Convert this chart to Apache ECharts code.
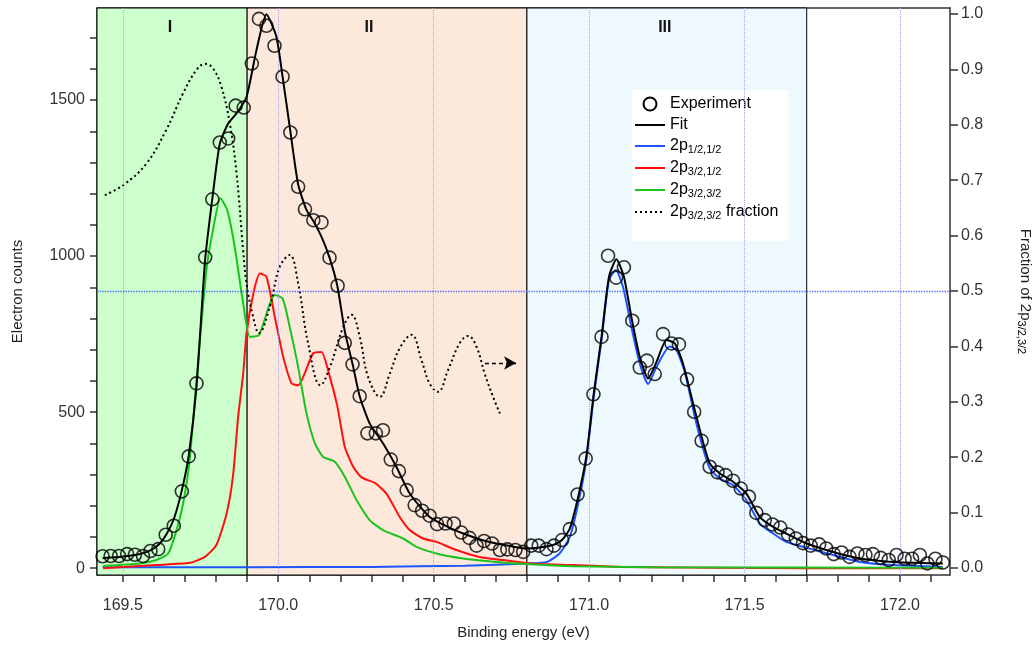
<!DOCTYPE html>
<html>
<head>
<meta charset="utf-8">
<script src="https://cdn.jsdelivr.net/npm/echarts@6/dist/echarts.min.js"></script>
<style>
  html, body { margin: 0; padding: 0; background: #fff; }
  #chart { width: 1034px; height: 645px; }
</style>
</head>
<body>
<div id="chart"></div>
<script>
// experimental points (binding energy, counts)
const expX = [169.435, 169.461, 169.488, 169.514, 169.539, 169.565, 169.589, 169.614, 169.638, 169.664,
  169.690, 169.712, 169.737, 169.765, 169.788, 169.812, 169.839, 169.863, 169.889, 169.915,
  169.938, 169.962, 169.988, 170.014, 170.039, 170.064, 170.086, 170.113, 170.139, 170.165,
  170.191, 170.214, 170.239, 170.262, 170.287, 170.314, 170.337, 170.362, 170.388, 170.413,
  170.439, 170.463, 170.487, 170.511, 170.538, 170.565, 170.589, 170.615, 170.638, 170.662,
  170.688, 170.713, 170.737, 170.763, 170.788, 170.814, 170.838, 170.863, 170.887, 170.913,
  170.938, 170.963, 170.989, 171.014, 171.040, 171.061, 171.087, 171.112, 171.139, 171.163,
  171.186, 171.211, 171.238, 171.265, 171.289, 171.315, 171.338, 171.362, 171.388, 171.413,
  171.439, 171.463, 171.488, 171.514, 171.538, 171.565, 171.590, 171.615, 171.640, 171.665,
  171.688, 171.713, 171.740, 171.763, 171.787, 171.812, 171.838, 171.863, 171.889, 171.913,
  171.938, 171.964, 171.989, 172.015, 172.039, 172.064, 172.088, 172.114, 172.138];
const expY = [38, 39, 39, 45, 43, 39, 55, 61, 107, 136,
  246, 358, 592, 996, 1182, 1364, 1377, 1482, 1476, 1617,
  1760, 1738, 1674, 1575, 1396, 1222, 1150, 1115, 1108, 995,
  905, 722, 653, 551, 432, 432, 442, 348, 311, 250,
  202, 184, 168, 141, 143, 143, 114, 97, 72, 87,
  79, 58, 60, 58, 52, 72, 72, 61, 72, 90,
  125, 236, 351, 557, 741, 1001, 931, 964, 793, 643,
  665, 622, 750, 720, 717, 605, 501, 408, 325, 307,
  298, 280, 255, 229, 177, 154, 140, 130, 108, 95,
  80, 72, 76, 63, 45, 50, 36, 47, 42, 45,
  33, 26, 42, 30, 30, 42, 15, 30, 18];

// total fit
const fitX = [169.435, 169.46, 169.49, 169.515, 169.54, 169.565, 169.59, 169.615, 169.64, 169.665,
  169.69, 169.712, 169.737, 169.765, 169.79, 169.812, 169.839, 169.868, 169.898, 169.93,
  169.962, 169.994, 170.014, 170.039, 170.064, 170.09, 170.113, 170.14, 170.165, 170.19,
  170.214, 170.24, 170.262, 170.294, 170.337, 170.38, 170.423, 170.487, 170.55, 170.595,
  170.65, 170.702, 170.75, 170.798, 170.84, 170.884, 170.913, 170.938, 170.965, 170.991,
  171.015, 171.04, 171.064, 171.088, 171.112, 171.136, 171.163, 171.19, 171.217, 171.249,
  171.276, 171.302, 171.34, 171.365, 171.388, 171.42, 171.463, 171.506, 171.549, 171.592,
  171.656, 171.7, 171.763, 171.82, 171.872, 171.93, 171.978, 172.05, 172.138];
const fitY = [32, 34, 36, 39, 42, 48, 58, 75, 108, 160,
  250, 360, 580, 990, 1200, 1360, 1425, 1460, 1510, 1660,
  1775, 1703, 1575, 1400, 1230, 1150, 1112, 1060, 995, 905,
  760, 650, 551, 464, 400, 325, 239, 164, 130, 111,
  92, 79, 70, 63, 66, 74, 90, 127, 229, 357,
  560, 741, 934, 990, 934, 805, 677, 608, 661, 731,
  720, 656, 506, 410, 336, 304, 277, 239, 164, 132,
  100, 79, 58, 42, 31, 24, 20, 17, 15];

// 2p1/2,1/2 component
const p1X = [169.435, 169.9, 170.3, 170.6, 170.8, 170.865, 170.905, 170.938, 170.965, 170.991,
  171.015, 171.04, 171.064, 171.086, 171.109, 171.136, 171.163, 171.19, 171.217, 171.259,
  171.281, 171.309, 171.34, 171.365, 171.388, 171.42, 171.463, 171.506, 171.549, 171.592,
  171.634, 171.7, 171.785, 171.87, 171.98, 172.138];
const p1Y = [3, 3, 4, 8, 15, 20, 47, 100, 207, 346,
  549, 731, 923, 955, 902, 773, 656, 590, 645, 710,
  699, 624, 485, 389, 320, 287, 266, 218, 143, 111,
  84, 65, 42, 20, 10, 4];

// 2p3/2,1/2 component
const p2X = [169.437, 169.608, 169.715, 169.764, 169.801, 169.834, 169.855, 169.871, 169.887, 169.898,
  169.92, 169.941, 169.962, 169.989, 170.016, 170.043, 170.064, 170.112, 170.139, 170.166,
  170.19, 170.214, 170.241, 170.268, 170.311, 170.348, 170.391, 170.423, 170.466, 170.509,
  170.573, 170.648, 170.723, 170.809, 170.95, 171.1, 171.7, 172.138];
const p2Y = [0, 10, 17, 36, 74, 175, 300, 485, 620, 752,
  880, 944, 934, 805, 677, 592, 586, 688, 693, 613,
  520, 389, 325, 291, 273, 239, 164, 122, 95, 84,
  58, 36, 26, 15, 10, 4, 0, 0];

// 2p3/2,3/2 component
const p3X = [169.437, 169.555, 169.608, 169.646, 169.673, 169.694, 169.715, 169.737, 169.769, 169.79,
  169.814, 169.836, 169.86, 169.887, 169.909, 169.938, 169.989, 170.014, 170.037, 170.064,
  170.091, 170.118, 170.144, 170.182, 170.214, 170.252, 170.294, 170.337, 170.402, 170.445,
  170.509, 170.595, 170.702, 170.799, 170.95, 171.2, 172.138];
const p3Y = [7, 15, 26, 47, 122, 207, 346, 603, 955, 1083,
  1185, 1147, 1030, 850, 741, 747, 875, 864, 773, 645,
  496, 400, 357, 341, 293, 218, 154, 122, 95, 68,
  47, 31, 20, 13, 6, 3, 1];

// fraction of 2p3/2,3/2 (right axis)
const fracX = [169.442, 169.501, 169.576, 169.64, 169.694, 169.737, 169.764, 169.79, 169.817, 169.844,
  169.866, 169.887, 169.898, 169.919, 169.938, 169.973, 170.005, 170.037, 170.064, 170.096,
  170.136, 170.166, 170.209, 170.236, 170.262, 170.289, 170.327, 170.359, 170.391, 170.429,
  170.461, 170.487, 170.514, 170.546, 170.584, 170.611, 170.638, 170.664, 170.691, 170.713];
const fracY = [0.673, 0.691, 0.730, 0.791, 0.857, 0.899, 0.910, 0.902, 0.869, 0.803,
  0.712, 0.574, 0.514, 0.454, 0.424, 0.472, 0.544, 0.565, 0.514, 0.406,
  0.330, 0.362, 0.435, 0.457, 0.418, 0.345, 0.309, 0.351, 0.397, 0.421,
  0.375, 0.333, 0.318, 0.357, 0.406, 0.419, 0.399, 0.351, 0.309, 0.279];

// shaded regions
const regionNames = ['I', 'II', 'III'];
const regionStart = [169.417, 169.9, 170.8];
const regionEnd = [169.9, 170.8, 171.7];
const regionColors = ['#ccffcc', '#fde8dc', '#eef9fe'];

// axis ticks
const xTicks = [169.5, 169.6, 169.7, 169.8, 169.9, 170.0, 170.1, 170.2, 170.3, 170.4, 170.5, 170.6, 170.7,
  170.8, 170.9, 171.0, 171.1, 171.2, 171.3, 171.4, 171.5, 171.6, 171.7, 171.8, 171.9, 172.0, 172.1];
const xLabels = [169.5, 170.0, 170.5, 171.0, 171.5, 172.0];
const countTicks = [0, 100, 200, 300, 400, 500, 600, 700, 800, 900, 1000, 1100, 1200, 1300, 1400, 1500, 1600, 1700];
const countLabels = [0, 500, 1000, 1500];
const fracTicks = [0, 0.1, 0.2, 0.3, 0.4, 0.5, 0.6, 0.7, 0.8, 0.9, 1.0];
const gridLinesX = [169.5, 170.0, 170.5, 171.0, 171.5, 172.0];
const arrowFrom = [170.665, 0.37];
const arrowTo = [170.765, 0.37];

const zip = (xs, ys) => xs.map((x, i) => [x, ys[i]]);

const FONT = '"Liberation Sans", Arial, sans-serif';
const AXIS_COLOR = '#333';
const sub = { fontSize: 11, padding: [7, 0, 0, 0], fontFamily: FONT, color: '#000' };

const legendText = {
  'Experiment': 'Experiment',
  'Fit': 'Fit',
  'p11': '2p{sub|1/2,1/2}',
  'p31': '2p{sub|3/2,1/2}',
  'p33': '2p{sub|3/2,3/2}',
  'frac': '2p{sub|3/2,3/2} fraction'
};
const noSymbol = { color: 'transparent', borderWidth: 0, opacity: 0 };

const chart = echarts.init(document.getElementById('chart'));

const baseX = {
  type: 'value',
  min: 169.417,
  max: 172.161,
  axisLine: { show: true, onZero: false, lineStyle: { color: AXIS_COLOR, width: 1.5 } },
  splitLine: { show: false }
};

chart.setOption({
  animation: false,
  textStyle: { fontFamily: FONT },
  grid: { left: 97, right: 84, top: 8, bottom: 70, outerBoundsMode: 'none', containLabel: false },
  legend: {
    orient: 'vertical',
    left: 632,
    top: 90,
    backgroundColor: '#fff',
    padding: [6, 10, 20, 2],
    itemWidth: 30,
    itemHeight: 13,
    itemGap: 5,
    data: [
      { name: 'Experiment', icon: 'emptyCircle', itemStyle: { color: '#000', borderColor: '#000', borderWidth: 1.8, opacity: 1 } },
      { name: 'Fit', itemStyle: noSymbol },
      { name: 'p11', itemStyle: noSymbol },
      { name: 'p31', itemStyle: noSymbol },
      { name: 'p33', itemStyle: noSymbol },
      { name: 'frac', itemStyle: noSymbol }
    ],
    formatter: name => legendText[name],
    textStyle: {
      fontSize: 16, color: '#000', fontFamily: FONT,
      rich: { sub: sub }
    }
  },
  xAxis: [
    Object.assign({}, baseX, {
      position: 'bottom',
      name: 'Binding energy (eV)',
      nameLocation: 'middle',
      nameGap: 50,
      nameTextStyle: { fontSize: 15, color: '#222', fontFamily: FONT },
      axisTick: { show: true, length: 7, customValues: xTicks, lineStyle: { color: AXIS_COLOR, width: 1.5 } },
      axisLabel: {
        customValues: xLabels, margin: 23, fontSize: 16, color: '#333',
        formatter: v => v.toFixed(1)
      }
    }),
    Object.assign({}, baseX, {
      position: 'top',
      axisTick: { show: false },
      axisLabel: { show: false }
    })
  ],
  yAxis: [
    {
      type: 'value',
      min: -22,
      max: 1795,
      position: 'left',
      name: 'Electron counts',
      nameLocation: 'middle',
      nameGap: 72,
      nameTextStyle: { fontSize: 15, color: '#222', fontFamily: FONT },
      axisLine: { show: true, onZero: false, lineStyle: { color: AXIS_COLOR, width: 1.5 } },
      axisTick: { show: true, length: 7, customValues: countTicks, lineStyle: { color: AXIS_COLOR, width: 1.5 } },
      axisLabel: { customValues: countLabels, margin: 12, fontSize: 16, color: '#333', formatter: v => String(v) },
      splitLine: { show: false }
    },
    {
      type: 'value',
      min: -0.0126,
      max: 1.0108,
      position: 'right',
      name: 'Fraction of 2p{sub|3/2,3/2}',
      nameLocation: 'middle',
      nameRotate: -90,
      nameGap: 66,
      nameTextStyle: { fontSize: 15, color: '#222', fontFamily: FONT, rich: { sub: sub } },
      axisLine: { show: true, onZero: false, lineStyle: { color: AXIS_COLOR, width: 1.5 } },
      axisTick: { show: true, length: 8, customValues: fracTicks, lineStyle: { color: AXIS_COLOR, width: 1.5 } },
      axisLabel: {
        customValues: fracTicks, margin: 11, fontSize: 16, color: '#333',
        formatter: v => v.toFixed(1)
      },
      splitLine: { show: false }
    }
  ],
  series: [
    {
      // regions, grid lines
      type: 'line',
      name: 'helper',
      yAxisIndex: 1,
      data: [],
      z: 1,
      markArea: {
        silent: true,
        data: regionNames.map((n, i) => [
          {
            xAxis: regionStart[i],
            yAxis: 'max',
            itemStyle: { color: regionColors[i], borderColor: '#000', borderWidth: 1 },
            label: {
              show: true, position: 'insideTop', distance: 12, formatter: n,
              fontSize: 16, fontWeight: 'bold', color: '#111',
              offset: i === 1 ? [-18, 0] : [-2, 0]
            }
          },
          { xAxis: regionEnd[i], yAxis: 'min' }
        ])
      },
      markLine: {
        silent: true,
        symbol: 'none',
        label: { show: false },
        lineStyle: { type: 'dotted', color: '#a0a0ff', width: 1 },
        data: gridLinesX.map(x => ({ xAxis: x })).concat([
          { yAxis: 0.5, lineStyle: { type: 'dotted', color: '#4466ff', width: 1.3 } }
        ])
      }
    },
    {
      type: 'line',
      name: 'p11',
      data: zip(p1X, p1Y),
      symbol: 'none',
      smooth: 0.2,
      z: 3,
      lineStyle: { color: '#1f55ff', width: 2 },
      itemStyle: { color: '#1f55ff' }
    },
    {
      type: 'line',
      name: 'p31',
      data: zip(p2X, p2Y),
      symbol: 'none',
      smooth: 0.2,
      z: 3,
      lineStyle: { color: '#ff1010', width: 2 },
      itemStyle: { color: '#ff1010' }
    },
    {
      type: 'line',
      name: 'p33',
      data: zip(p3X, p3Y),
      symbol: 'none',
      smooth: 0.2,
      z: 3,
      lineStyle: { color: '#1cc31c', width: 2 },
      itemStyle: { color: '#1cc31c' }
    },
    {
      type: 'line',
      name: 'frac',
      yAxisIndex: 1,
      data: zip(fracX, fracY),
      symbol: 'none',
      smooth: 0.4,
      z: 4,
      lineStyle: { color: '#000', width: 2, type: [2, 3] },
      itemStyle: { color: '#000' },
      markLine: {
        silent: true,
        symbol: ['none', 'arrow'],
        symbolSize: [10, 12],
        label: { show: false },
        lineStyle: { color: '#000', width: 1.3, type: [4, 3] },
        data: [[{ coord: arrowFrom }, { coord: arrowTo }]]
      }
    },
    {
      type: 'line',
      name: 'Fit',
      data: zip(fitX, fitY),
      symbol: 'none',
      smooth: 0.2,
      z: 5,
      lineStyle: { color: '#000', width: 2 },
      itemStyle: { color: '#000' }
    },
    {
      type: 'scatter',
      name: 'Experiment',
      data: zip(expX, expY),
      symbol: 'circle',
      symbolSize: 13,
      z: 6,
      itemStyle: { color: 'transparent', borderColor: '#000', borderWidth: 1.6 }
    }
  ]
});
</script>
</body>
</html>
